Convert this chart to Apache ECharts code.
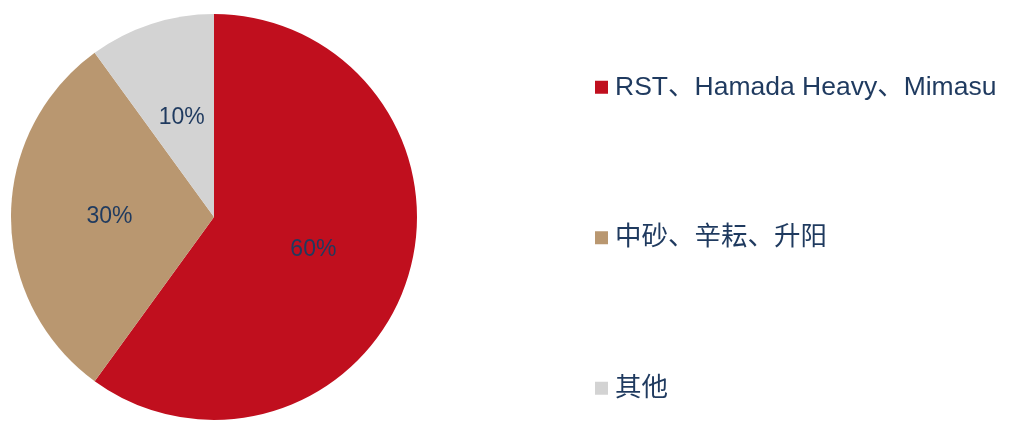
<!DOCTYPE html>
<html><head><meta charset="utf-8">
<script src="https://cdn.jsdelivr.net/npm/echarts@6/dist/echarts.min.js"></script>
<style>html,body{margin:0;padding:0;background:#fff}#c{width:1014px;height:435px}</style>
</head><body><div id="c"></div>
<script>
var categories = ['RST、Hamada Heavy、Mimasu', '中砂、辛耘、升阳', '其他'];
var shares = [60, 30, 10];
var colors = ['#c00f1e', '#b99770', '#d3d3d3'];
var chart = echarts.init(document.getElementById('c'));
chart.setOption({
  animation: false,
  legend: {
    orient: 'vertical', left: 595, top: 74, padding: 0, itemWidth: 13, itemHeight: 13, itemGap: 124,
    icon: 'rect',
    textStyle: { color: '#1f3a5f', fontSize: 26.5, fontFamily: 'Liberation Sans, Noto Sans CJK SC', padding: [0,0,0,2] },
    data: categories
  },
  series: [{
    type: 'pie', center: [214, 217], radius: 203, startAngle: 90, clockwise: true,
    label: { position: 'inside', formatter: '{c}%', color: '#1f3a5f', fontSize: 23, fontFamily: 'Liberation Sans' },
    labelLine: { show: false },
    emphasis: { disabled: true },
    data: categories.map(function (n, i) { return { name: n, value: shares[i], itemStyle: { color: colors[i] } }; })
  }]
});
</script></body></html>
